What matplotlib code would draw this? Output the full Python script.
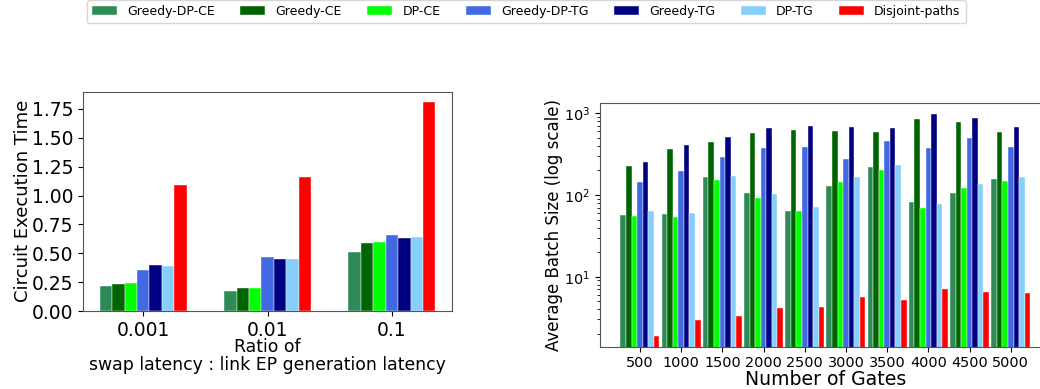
import matplotlib.pyplot as plt
import numpy as np

# series names and colours (same order in both panels)
methods = ['Greedy-DP-CE', 'Greedy-CE', 'DP-CE', 'Greedy-DP-TG', 'Greedy-TG', 'DP-TG', 'Disjoint-paths']
colors = ['#2e8b57', '#006400', '#00ff00', '#4169e1', '#000080', '#87cefa', '#ff0000']

# left panel: circuit execution time vs latency ratio
ratios = ['0.001', '0.01', '0.1']
exec_greedy_dp_ce = [0.22, 0.17, 0.51]
exec_greedy_ce = [0.235, 0.196, 0.586]
exec_dp_ce = [0.24, 0.196, 0.595]
exec_greedy_dp_tg = [0.352, 0.47, 0.658]
exec_greedy_tg = [0.395, 0.447, 0.635]
exec_dp_tg = [0.387, 0.453, 0.641]
exec_disjoint = [1.088, 1.163, 1.81]

# right panel: average batch size vs number of gates
gates = ['500', '1000', '1500', '2000', '2500', '3000', '3500', '4000', '4500', '5000']
batch_greedy_dp_ce = [57, 58, 164, 106, 63, 129, 220, 82, 105, 156]
batch_greedy_ce = [226, 366, 450, 580, 619, 602, 585, 861, 776, 597]
batch_dp_ce = [55.8, 53.8, 153, 92, 63.7, 146, 204, 70, 122, 148]
batch_greedy_dp_tg = [146, 199, 289, 373, 387, 273, 458, 377, 499, 384]
batch_greedy_tg = [254, 409, 508, 655, 693, 674, 661, 981, 869, 674]
batch_dp_tg = [63, 60, 169, 103, 71, 164, 231, 77.6, 136, 166]
batch_disjoint = [1.88, 2.94, 3.33, 4.09, 4.25, 5.58, 5.13, 7.06, 6.43, 6.25]

exec_series = [exec_greedy_dp_ce, exec_greedy_ce, exec_dp_ce, exec_greedy_dp_tg,
               exec_greedy_tg, exec_dp_tg, exec_disjoint]
batch_series = [batch_greedy_dp_ce, batch_greedy_ce, batch_dp_ce, batch_greedy_dp_tg,
                batch_greedy_tg, batch_dp_tg, batch_disjoint]

fig = plt.figure(figsize=(10.4, 3.89), dpi=100)

# ---- left: execution time
ax1 = fig.add_axes([0.0798, 0.2005, 0.355, 0.564])
w1 = 0.1
x1 = np.arange(len(ratios))
for j, (name, vals) in enumerate(zip(methods, exec_series)):
    ax1.bar(x1 + (j - 3) * w1, vals, w1, color=colors[j], label=name,
            edgecolor='white', linewidth=0.3)
ax1.set_xticks(x1)
ax1.set_xticklabels(ratios)
ax1.set_yticks(np.arange(0, 1.76, 0.25))
ax1.tick_params(labelsize=13.5)
ax1.set_ylabel('Circuit Execution Time', fontsize=13, labelpad=0)
ax1.set_xlabel('Ratio of\nswap latency : link EP generation latency', fontsize=12.4,
               labelpad=-1, linespacing=0.95)

# ---- right: batch size (log scale), axes runs past the right edge like the original
ax2 = fig.add_axes([0.5769, 0.1087, 0.4334, 0.6265])
w2 = 0.135
x2 = np.arange(len(gates))
for j, (name, vals) in enumerate(zip(methods, batch_series)):
    ax2.bar(x2 + (j - 3) * w2, vals, w2, color=colors[j],
            edgecolor='white', linewidth=0.3)
ax2.set_yscale('log')
ax2.set_ylim(1.39, 1337)
ax2.set_xlim(-0.97, 9.97)
ax2.set_xticks(x2)
ax2.set_xticklabels(gates)
ax2.tick_params(labelsize=10.4)
ax2.set_ylabel('Average Batch Size (log scale)', fontsize=12, labelpad=1)
ax2.set_xlabel('Number of Gates', fontsize=13.6, labelpad=0)

for ax in (ax1, ax2):
    for sp in ax.spines.values():
        sp.set_color('#555555')

handles, labels = ax1.get_legend_handles_labels()
fig.legend(handles, labels, ncol=7, fontsize=9, loc='lower center',
           bbox_to_anchor=(0.506, 1 - 23 / 389), borderaxespad=0,
           columnspacing=2.05, handlelength=2.0)

fig.savefig('out.png', dpi=100)
